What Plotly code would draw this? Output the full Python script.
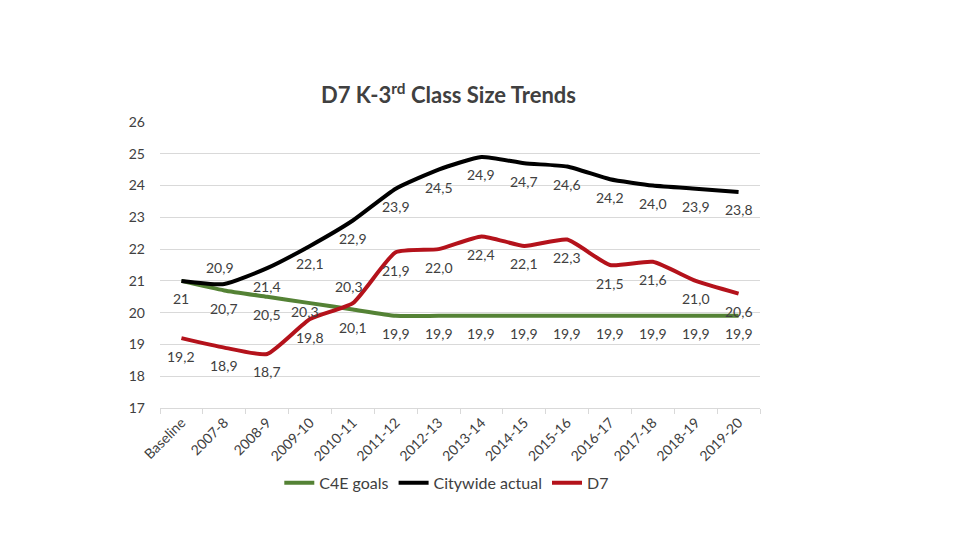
import plotly.graph_objects as go

categories = ["Baseline", "2007-8", "2008-9", "2009-10", "2010-11", "2011-12", "2012-13",
              "2013-14", "2014-15", "2015-16", "2016-17", "2017-18", "2018-19", "2019-20"]
c4e_goals = [21, 20.7, 20.5, 20.3, 20.1, 19.9, 19.9, 19.9, 19.9, 19.9, 19.9, 19.9, 19.9, 19.9]
citywide = [21, 20.9, 21.4, 22.1, 22.9, 23.9, 24.5, 24.9, 24.7, 24.6, 24.2, 24.0, 23.9, 23.8]
d7 = [19.2, 18.9, 18.7, 19.8, 20.3, 21.9, 22.0, 22.4, 22.1, 22.3, 21.5, 21.6, 21.0, 20.6]
y_ticks = [17, 18, 19, 20, 21, 22, 23, 24, 25, 26]

FONT = "Lato, 'Open Sans', sans-serif"
TXT = "#404040"


def fmt(v, i):
    if i == 0 and float(v).is_integer():
        return str(int(v))
    return f"{v:.1f}".replace(".", ",")


series = [
    ("C4E goals", c4e_goals, "#548235"),
    ("Citywide actual", citywide, "#000000"),
    ("D7", d7, "#B4121B"),
]

fig = go.Figure()
for name, vals, color in series:
    fig.add_trace(go.Scatter(
        x=categories, y=vals, name=name, mode="lines",
        line=dict(color=color, width=4, shape="spline", smoothing=0.5),
        hoverinfo="skip",
    ))

# label placement exceptions (above instead of below)
above = {("Citywide actual", 1), ("D7", 4)}
annotations = []
for name, vals, color in series:
    for i, v in enumerate(vals):
        if name == "Citywide actual" and i == 0:
            continue
        ys = -18
        xs = 0
        if (name, i) in above:
            ys, xs = 17, -4
        if name == "C4E goals" and i == 3:
            ys, xs = -8, -5
        annotations.append(dict(
            x=categories[i], y=v, xref="x", yref="y", text=fmt(v, i),
            showarrow=False, yshift=ys, xshift=xs, yanchor="middle", xanchor="center",
            font=dict(family=FONT, size=14, color=TXT),
        ))

annotations.append(dict(
    x=0.48, y=1.101, xref="paper", yref="paper",
    text="<b>D7 K-3<sup>rd</sup> Class Size Trends</b>",
    showarrow=False, xanchor="center", yanchor="middle",
    font=dict(family=FONT, size=22, color=TXT),
))

fig.update_layout(
    width=960, height=540,
    margin=dict(l=152, r=208, t=114, b=140),
    paper_bgcolor="white", plot_bgcolor="white",
    font=dict(family=FONT, color=TXT),
    showlegend=True,
    legend=dict(orientation="h", x=0.478, y=-0.262, xanchor="center", yanchor="middle",
                font=dict(family=FONT, size=16, color=TXT), itemwidth=30),
    annotations=annotations,
    xaxis=dict(
        type="category", tickangle=-45, tickfont=dict(family=FONT, size=14, color=TXT),
        showgrid=False, showline=True, linecolor="#D9D9D9", linewidth=1,
        ticks="outside", tickson="boundaries", ticklen=5, tickcolor="#D9D9D9",
        range=[-0.5, len(categories) - 0.5], fixedrange=True, automargin=False,
    ),
    yaxis=dict(
        range=[17, 26], tickvals=y_ticks, showgrid=True, gridcolor="#D9D9D9",
        gridwidth=1, zeroline=False, showline=False, ticks="", automargin=False,
        tickfont=dict(family=FONT, size=14, color=TXT), ticklabelstandoff=14,
    ),
)

fig.write_html("out.html")
